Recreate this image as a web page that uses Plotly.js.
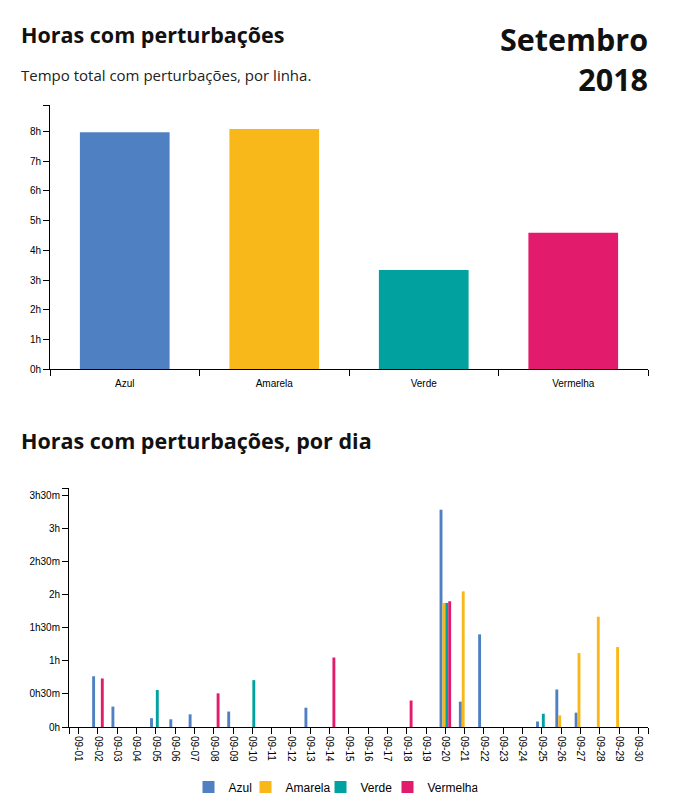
<!DOCTYPE html>
<html>
<head>
<meta charset="utf-8">
<script src="https://cdn.plot.ly/plotly-3.0.1.min.js"></script>
<style>
html,body{margin:0;padding:0;background:#fff;}
#chart{width:680px;height:812px;}
</style>
</head>
<body>
<div id="chart"></div>
<script>
// ---- Data ----
const lines = ["Azul", "Amarela", "Verde", "Vermelha"];
const lineColors = ["#4f80c2", "#f9b81a", "#00a19f", "#e31b6d"];
// total hours per line (September 2018)
const totalHours = [7.97, 8.08, 3.34, 4.59];

const dayLabels = ["09-01","09-02","09-03","09-04","09-05","09-06","09-07","09-08","09-09","09-10",
  "09-11","09-12","09-13","09-14","09-15","09-16","09-17","09-18","09-19","09-20",
  "09-21","09-22","09-23","09-24","09-25","09-26","09-27","09-28","09-29","09-30"];
// minutes with disruptions per day
const azulMin =     [0,46,18.5,0,8,7,11.5,0,14,0, 0,0,17.5,0,0,0,0,0,0,197, 23,84,0,0,5,34,13,0,0,0];
const amarelaMin =  [0,0,0,0,0,0,0,0,0,0, 0,0,0,0,0,0,0,0,0,112.5, 123,0,0,0,0,10.5,67,100,72.5,0];
const verdeMin =    [0,0,0,0,33.5,0,0,0,0,42.5, 0,0,0,0,0,0,0,0,0,112.5, 0,0,0,0,12,0,0,0,0,0];
const vermelhaMin = [0,44,0,0,0,0,0,30.5,0,0, 0,0,0,63,0,0,0,24,0,114, 0,0,0,0,0,0,0,0,0,0];

const yDailyTickVals = [0,30,60,90,120,150,180,210];
const yDailyTickText = ["0h","0h30m","1h","1h30m","2h","2h30m","3h","3h30m"];
const yTotalTickVals = [0,1,2,3,4,5,6,7,8];
const yTotalTickText = ["0h","1h","2h","3h","4h","5h","6h","7h","8h"];

// ---- Build ----
const W = 680, H = 812;
const px = v => v / W;
const py = v => 1 - v / H;

const dayNums = dayLabels.map((d, i) => i + 1);
const dailySeries = [azulMin, amarelaMin, verdeMin, vermelhaMin];
const legendWidths = [12, 30, 22, 45];

const traces = [{
  type: "bar", x: lines, y: totalHours, xaxis: "x", yaxis: "y",
  marker: {color: lineColors}, showlegend: false, hoverinfo: "x+y"
}];
dailySeries.forEach((s, k) => {
  traces.push({
    type: "bar", name: lines[k], x: dayNums, y: s, xaxis: "x2", yaxis: "y2",
    marker: {color: lineColors[k]}, legendwidth: legendWidths[k]
  });
});

const topMax = Math.max(...totalHours) * 1.1;
const dailyMax = Math.max(...dailySeries.map(s => Math.max(...s))) * 1.1;

const tickFont = {family: "Liberation Sans, Arial, sans-serif", size: 10, color: "#000"};
const axisCommon = {
  showline: true, linecolor: "#000", linewidth: 1, ticks: "outside", ticklen: 6,
  tickwidth: 1, tickcolor: "#000", showgrid: false, zeroline: false, tickfont: tickFont,
  fixedrange: true
};

const titleFont = {family: "Open Sans, Noto Sans, sans-serif", size: 21.5, color: "#111", weight: 700};

const layout = {
  width: W, height: H,
  margin: {l: 0, r: 0, t: 0, b: 0},
  paper_bgcolor: "#fff", plot_bgcolor: "#fff",
  barmode: "group", bargap: 0.4, bargroupgap: 0,
  showlegend: true,
  legend: {orientation: "h", x: px(333), xanchor: "center", y: py(787), yanchor: "middle",
           font: {family: "Liberation Sans, Arial, sans-serif", size: 12, color: "#000"},
           itemwidth: 30, tracegroupgap: 0},
  xaxis: Object.assign({}, axisCommon, {domain: [px(50), px(648)], anchor: "y", type: "category",
           tickson: "boundaries", ticklabelstandoff: 5}),
  yaxis: Object.assign({}, axisCommon, {domain: [py(369.3), py(105)], anchor: "x", range: [0, topMax],
           tickvals: yTotalTickVals.concat([topMax]), ticktext: yTotalTickText.concat([""])}),
  xaxis2: Object.assign({}, axisCommon, {domain: [px(69), px(648)], anchor: "y2", type: "linear",
           range: [0.5, dayLabels.length + 0.5],
           tickvals: [0.5].concat(dayNums).concat([dayLabels.length + 0.5]),
           ticktext: [""].concat(dayLabels).concat([""]), tickangle: 90}),
  yaxis2: Object.assign({}, axisCommon, {domain: [py(727), py(488)], anchor: "x2", range: [0, dailyMax],
           tickvals: yDailyTickVals.concat([dailyMax]), ticktext: yDailyTickText.concat([""])}),
  annotations: [
    {text: "Horas com perturbações", xref: "paper", yref: "paper", x: px(19), y: py(34),
     xanchor: "left", yanchor: "middle", showarrow: false, font: titleFont},
    {text: "Tempo total com perturbações, por linha.", xref: "paper", yref: "paper", x: px(19), y: py(75),
     xanchor: "left", yanchor: "middle", showarrow: false,
     font: {family: "Open Sans, Noto Sans, sans-serif", size: 15, color: "#222"}},
    {text: "Setembro<br>2018", xref: "paper", yref: "paper", x: px(650), y: py(59),
     xanchor: "right", yanchor: "middle", align: "right", showarrow: false,
     font: {family: "Open Sans, Noto Sans, sans-serif", size: 30.5, color: "#111", weight: 700}},
    {text: "Horas com perturbações, por dia", xref: "paper", yref: "paper", x: px(19), y: py(440),
     xanchor: "left", yanchor: "middle", showarrow: false, font: titleFont}
  ]
};

Plotly.newPlot("chart", traces, layout, {displayModeBar: false, staticPlot: true});
</script>
</body>
</html>
